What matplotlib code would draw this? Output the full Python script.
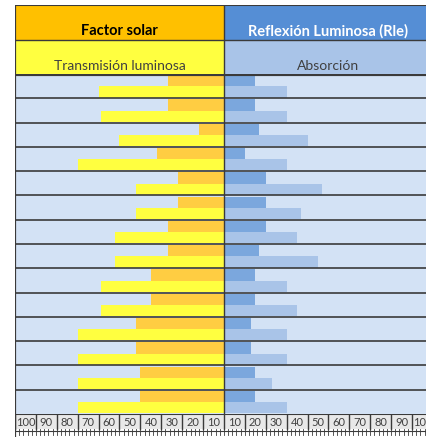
import matplotlib.pyplot as plt

# values (percent)
factor_solar = [27, 27, 12, 32, 22, 22, 27, 27, 35, 35, 42, 42, 40, 40]
transmision = [60, 59, 50, 70, 42, 42, 52, 52, 59, 59, 70, 70, 70, 70]
reflexion = [15, 15, 17, 10, 20, 20, 20, 17, 15, 15, 13, 13, 15, 15]
absorcion = [30, 30, 40, 30, 47, 37, 35, 45, 30, 35, 30, 30, 23, 30]

left_ticks = [100, 90, 80, 70, 60, 50, 40, 30, 20, 10]
right_ticks = [10, 20, 30, 40, 50, 60, 70, 80, 90, 100]

W, H = 426, 437
XMIN, XMAX = -100, 96.7
LINE = "#3a3a3a"
plt.rcParams['font.family'] = ['Lato', 'DejaVu Sans']


def box(x0, y0, x1, y1):
    return [x0 / W, 1 - y1 / H, (x1 - x0) / W, (y1 - y0) / H]


fig = plt.figure(figsize=(W / 100, H / 100), dpi=100)

# header
axh = fig.add_axes(box(15, 5, W, 74))
axh.set_xlim(XMIN, XMAX)
axh.set_ylim(2, 0)
axh.barh(0.5, -100, height=1, color="#FFC000")
axh.barh(0.5, 100, height=1, color="#558ED5")
axh.barh(1.5, -100, height=1, color="#FFFF40")
axh.barh(1.5, 100, height=1, color="#A9C4E8")
axh.text(-50, 0.88, "Factor solar", ha="center", va="baseline", fontsize=10.5,
         fontweight="bold", color="black")
axh.text(50, 0.88, "Reflexión Luminosa (Rle)", ha="center", va="baseline",
         fontsize=10.5, fontweight="bold", color="white")
axh.text(-50, 1.87, "Transmisión luminosa", ha="center", va="baseline",
         fontsize=10, color="#404040")
axh.text(50, 1.87, "Absorción", ha="center", va="baseline", fontsize=10,
         color="#404040")
axh.axhline(0, color=LINE, lw=1.5)
axh.axhline(1, color=LINE, lw=1)
axh.axvline(0, color=LINE, lw=1)
axh.axvline(XMIN, color=LINE, lw=1.6)
axh.axis("off")

# bars
ax = fig.add_axes(box(15, 74, W, 414))
ax.set_facecolor("#D3E2F5")
ax.set_xlim(XMIN, XMAX)
ax.set_ylim(len(factor_solar), 0)
rows = range(len(factor_solar))
top = [i + 0.28 for i in rows]
bot = [i + 0.74 for i in rows]
ax.barh(top, [-v for v in factor_solar], height=0.47, color="#FFCD42")
ax.barh(bot, [-v for v in transmision], height=0.46, color="#FFFF40")
ax.barh(top, reflexion, height=0.47, color="#7BA7DD")
ax.barh(bot, absorcion, height=0.46, color="#A9C4E8")
for i in rows:
    ax.axhline(i, color=LINE, lw=1.2)
ax.axhline(0, color=LINE, lw=3)
ax.axvline(0, color=LINE, lw=1)
ax.axvline(XMIN, color=LINE, lw=1.6)
ax.set_xticks([])
ax.set_yticks([])
for s in ax.spines.values():
    s.set_visible(False)

# scale row
axs = fig.add_axes(box(15, 414, W, H))
axs.set_xlim(XMIN, XMAX)
axs.set_ylim(23, 0)
axs.barh(7.5, XMAX - XMIN, left=XMIN, height=15, color="#E8E8E8")
labels = left_ticks + right_ticks
centers = [-95 + 10 * k for k in range(len(labels))]
for c, lab in zip(centers, labels):
    axs.text(c, 8, str(lab), ha="center", va="center", fontsize=8,
             color="#404040")
for k in range(-100, 101, 10):
    axs.plot([k, k], [0, 15], color=LINE, lw=1)
for k in range(-100, 101, 2):
    axs.plot([k, k], [15, 21], color=LINE, lw=0.6)
axs.axhline(0, color=LINE, lw=1.5)
axs.axhline(16.5, color=LINE, lw=0.8)
axs.axvline(XMIN, color=LINE, lw=1.6)
axs.axis("off")

fig.savefig("out.png", dpi=100)
